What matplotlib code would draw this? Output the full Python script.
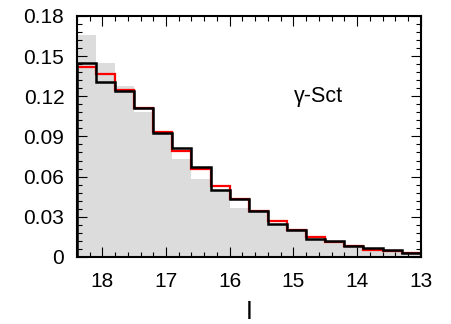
import matplotlib
matplotlib.use('Agg')
import matplotlib.pyplot as plt
from matplotlib.ticker import MultipleLocator

plt.rcParams['font.family'] = ['Liberation Sans', 'DejaVu Sans']

# bin edges in I magnitude (bright end on the right)
edges = [18.4, 18.1, 17.8, 17.5, 17.2, 16.9, 16.6, 16.3, 16.0, 15.7,
         15.4, 15.1, 14.8, 14.5, 14.2, 13.9, 13.6, 13.3, 13.0]

gray_vals = [0.166, 0.1445, 0.128, 0.108, 0.0915, 0.073, 0.058, 0.050, 0.0365,
             0.034, 0.0245, 0.019, 0.013, 0.0105, 0.0075, 0.005, 0.004, 0.002]
red_vals = [0.142, 0.1365, 0.125, 0.111, 0.0935, 0.079, 0.0658, 0.0533, 0.043,
            0.034, 0.0265, 0.0203, 0.0148, 0.0108, 0.0078, 0.0055, 0.0043, 0.0028]
black_vals = [0.1445, 0.1308, 0.124, 0.111, 0.0928, 0.081, 0.0673, 0.0503, 0.0433,
              0.0345, 0.0245, 0.0203, 0.0133, 0.012, 0.0083, 0.0065, 0.0053, 0.0028]

yticks = [0, 0.03, 0.06, 0.09, 0.12, 0.15, 0.18]
ytick_labels = ['0', '0.03', '0.06', '0.09', '0.12', '0.15', '0.18']

# stairs wants increasing edges, so flip everything
e = edges[::-1]

fig = plt.figure(figsize=(4.52, 3.24), dpi=100)
ax = fig.add_axes([0.170, 0.207, 0.761, 0.744])

ax.stairs(gray_vals[::-1], e, fill=True, color='#dcdcdc', baseline=0)
ax.stairs(red_vals[::-1], e, color='#ff0000', linewidth=1.6, baseline=0)
ax.stairs(black_vals[::-1], e, color='black', linewidth=1.8, baseline=0)

ax.set_xlim(18.4, 13.0)
ax.set_ylim(0, 0.18)

ax.xaxis.set_major_locator(MultipleLocator(1))
ax.xaxis.set_minor_locator(MultipleLocator(0.2))
ax.set_yticks(yticks)
ax.set_yticklabels(ytick_labels)
ax.yaxis.set_minor_locator(MultipleLocator(0.006))

ax.tick_params(which='both', direction='in', top=True, right=True, labelsize=15, width=0.8)
ax.tick_params(which='major', length=7)
ax.tick_params(axis='x', which='major', pad=11)
ax.tick_params(axis='y', which='major', pad=9)
ax.tick_params(which='minor', length=3.5)
for s in ax.spines.values():
    s.set_linewidth(1.5)

ax.text(14.6, 0.12, 'γ-Sct', fontsize=15.5, ha='center', va='center')
ax.set_xlabel('I', fontsize=18, labelpad=6)

fig.savefig('out.png', dpi=100)
